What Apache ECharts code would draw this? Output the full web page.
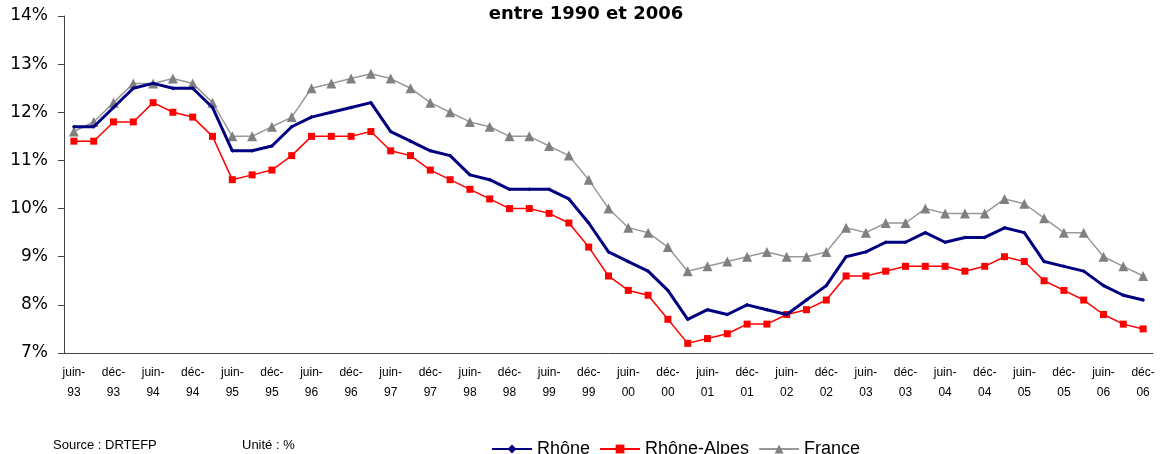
<!DOCTYPE html>
<html>
<head>
<meta charset="utf-8">
<script src="https://cdn.jsdelivr.net/npm/echarts@6/dist/echarts.min.js"></script>
<style>
  html, body { margin: 0; padding: 0; background: #fff; }
  #chart { width: 1163px; height: 454px; }
</style>
</head>
<body>
<div id="chart"></div>
<script>
// trimestres, de juin-93 à déc-06
var categories = [
  'juin-93', 'sept-93', 'déc-93',
  'mars-94', 'juin-94', 'sept-94', 'déc-94',
  'mars-95', 'juin-95', 'sept-95', 'déc-95',
  'mars-96', 'juin-96', 'sept-96', 'déc-96',
  'mars-97', 'juin-97', 'sept-97', 'déc-97',
  'mars-98', 'juin-98', 'sept-98', 'déc-98',
  'mars-99', 'juin-99', 'sept-99', 'déc-99',
  'mars-00', 'juin-00', 'sept-00', 'déc-00',
  'mars-01', 'juin-01', 'sept-01', 'déc-01',
  'mars-02', 'juin-02', 'sept-02', 'déc-02',
  'mars-03', 'juin-03', 'sept-03', 'déc-03',
  'mars-04', 'juin-04', 'sept-04', 'déc-04',
  'mars-05', 'juin-05', 'sept-05', 'déc-05',
  'mars-06', 'juin-06', 'sept-06', 'déc-06'
];

var rhone = [
  11.7, 11.7, 12.1, 12.5, 12.6, 12.5, 12.5, 12.1, 11.2, 11.2,
  11.3, 11.7, 11.9, 12.0, 12.1, 12.2, 11.6, 11.4, 11.2, 11.1,
  10.7, 10.6, 10.4, 10.4, 10.4, 10.2, 9.7, 9.1, 8.9, 8.7,
  8.3, 7.7, 7.9, 7.8, 8.0, 7.9, 7.8, 8.1, 8.4, 9.0,
  9.1, 9.3, 9.3, 9.5, 9.3, 9.4, 9.4, 9.6, 9.5, 8.9,
  8.8, 8.7, 8.4, 8.2, 8.1
];

var rhoneAlpes = [
  11.4, 11.4, 11.8, 11.8, 12.2, 12.0, 11.9, 11.5, 10.6, 10.7,
  10.8, 11.1, 11.5, 11.5, 11.5, 11.6, 11.2, 11.1, 10.8, 10.6,
  10.4, 10.2, 10.0, 10.0, 9.9, 9.7, 9.2, 8.6, 8.3, 8.2,
  7.7, 7.2, 7.3, 7.4, 7.6, 7.6, 7.8, 7.9, 8.1, 8.6,
  8.6, 8.7, 8.8, 8.8, 8.8, 8.7, 8.8, 9.0, 8.9, 8.5,
  8.3, 8.1, 7.8, 7.6, 7.5
];

var france = [
  11.6, 11.8, 12.2, 12.6, 12.6, 12.7, 12.6, 12.2, 11.5, 11.5,
  11.7, 11.9, 12.5, 12.6, 12.7, 12.8, 12.7, 12.5, 12.2, 12.0,
  11.8, 11.7, 11.5, 11.5, 11.3, 11.1, 10.6, 10.0, 9.6, 9.5,
  9.2, 8.7, 8.8, 8.9, 9.0, 9.1, 9.0, 9.0, 9.1, 9.6,
  9.5, 9.7, 9.7, 10.0, 9.9, 9.9, 9.9, 10.2, 10.1, 9.8,
  9.5, 9.5, 9.0, 8.8, 8.6
];

var chart = echarts.init(document.getElementById('chart'));

chart.setOption({
  animation: false,
  backgroundColor: '#fff',
  title: {
    text: 'entre 1990 et 2006',
    left: 581,
    textAlign: 'center',
    top: 0,
    textStyle: {
      fontFamily: 'DejaVu Sans',
      fontWeight: 'bold',
      fontSize: 18,
      color: '#000'
    }
  },
  grid: {
    left: 64,
    right: 10,
    top: 16,
    bottom: 101
  },
  legend: {
    left: 486,
    top: 435,
    itemWidth: 40,
    itemHeight: 11,
    itemGap: 9,
    textStyle: {
      fontFamily: 'Liberation Sans',
      fontSize: 18,
      color: '#000'
    },
    data: ['Rhône', 'Rhône-Alpes', 'France']
  },
  graphic: [{
    type: 'text',
    left: 53,
    top: 439,
    style: { text: 'Source : DRTEFP', font: '13px "Liberation Sans"', fill: '#000' }
  }, {
    type: 'text',
    left: 242,
    top: 439,
    style: { text: 'Unité : %', font: '13px "Liberation Sans"', fill: '#000' }
  }],
  xAxis: {
    type: 'category',
    data: categories,
    boundaryGap: true,
    axisLine: { lineStyle: { color: '#444', width: 1 } },
    axisTick: { interval: 0, length: 5, lineStyle: { color: '#444' } },
    axisLabel: {
      interval: 1,
      margin: 10,
      fontFamily: 'Liberation Sans',
      fontSize: 12,
      lineHeight: 20,
      color: '#000',
      formatter: function (v) {
        var p = v.split('-');
        return p[0] + '-\n' + p[1];
      }
    },
    splitLine: { show: false }
  },
  yAxis: {
    type: 'value',
    min: 7,
    max: 14,
    interval: 1,
    axisLine: { show: true, lineStyle: { color: '#444', width: 1 } },
    axisTick: { show: true, length: 6, lineStyle: { color: '#444' } },
    axisLabel: {
      margin: 16,
      fontFamily: 'DejaVu Sans',
      fontSize: 17,
      color: '#000',
      formatter: '{value}%'
    },
    splitLine: { show: false }
  },
  series: [{
    name: 'Rhône',
    type: 'line',
    data: rhone,
    color: '#000080',
    symbol: 'diamond',
    symbolSize: 4,
    lineStyle: { width: 3, color: '#000080' },
    itemStyle: { color: '#000080' },
    z: 3
  }, {
    name: 'Rhône-Alpes',
    type: 'line',
    data: rhoneAlpes,
    color: '#ff0000',
    symbol: 'rect',
    symbolSize: 7,
    lineStyle: { width: 1.5, color: '#ff0000' },
    itemStyle: { color: '#ff0000' },
    z: 2
  }, {
    name: 'France',
    type: 'line',
    data: france,
    color: '#808080',
    symbol: 'triangle',
    symbolSize: 10,
    lineStyle: { width: 1.5, color: '#999999' },
    itemStyle: { color: '#808080' },
    z: 1
  }]
});
</script>
</body>
</html>
